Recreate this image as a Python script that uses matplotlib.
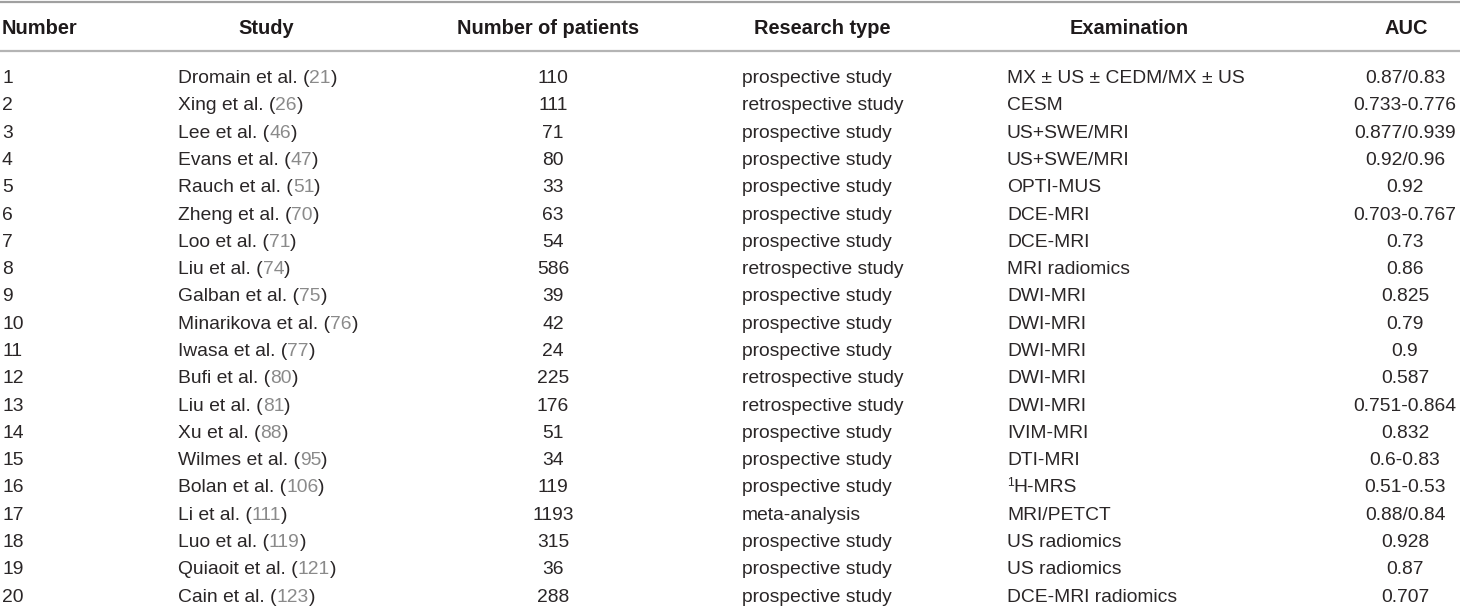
import matplotlib
matplotlib.use("Agg")
import matplotlib.pyplot as plt

plt.rcParams['font.family'] = ['Liberation Sans', 'DejaVu Sans']

numbers = [str(i) for i in range(1, 21)]
authors = ["Dromain et al.", "Xing et al.", "Lee et al.", "Evans et al.", "Rauch et al.",
           "Zheng et al.", "Loo et al.", "Liu et al.", "Galban et al.", "Minarikova et al.",
           "Iwasa et al.", "Bufi et al.", "Liu et al.", "Xu et al.", "Wilmes et al.",
           "Bolan et al.", "Li et al.", "Luo et al.", "Quiaoit et al.", "Cain et al."]
refs = ["21", "26", "46", "47", "51", "70", "71", "74", "75", "76",
        "77", "80", "81", "88", "95", "106", "111", "119", "121", "123"]
patients = ["110", "111", "71", "80", "33", "63", "54", "586", "39", "42",
            "24", "225", "176", "51", "34", "119", "1193", "315", "36", "288"]
research_types = ["prospective study", "retrospective study", "prospective study", "prospective study",
                  "prospective study", "prospective study", "prospective study", "retrospective study",
                  "prospective study", "prospective study", "prospective study", "retrospective study",
                  "retrospective study", "prospective study", "prospective study", "prospective study",
                  "meta-analysis", "prospective study", "prospective study", "prospective study"]
examinations = ["MX ± US ± CEDM/MX ± US", "CESM", "US+SWE/MRI", "US+SWE/MRI", "OPTI-MUS",
                "DCE-MRI", "DCE-MRI", "MRI radiomics", "DWI-MRI", "DWI-MRI",
                "DWI-MRI", "DWI-MRI", "DWI-MRI", "IVIM-MRI", "DTI-MRI",
                "1|H-MRS", "MRI/PETCT", "US radiomics", "US radiomics", "DCE-MRI radiomics"]
aucs = ["0.87/0.83", "0.733-0.776", "0.877/0.939", "0.92/0.96", "0.92",
        "0.703-0.767", "0.73", "0.86", "0.825", "0.79",
        "0.9", "0.587", "0.751-0.864", "0.832", "0.6-0.83",
        "0.51-0.53", "0.88/0.84", "0.928", "0.87", "0.707"]
headers = ["Number", "Study", "Number of patients", "Research type", "Examination", "AUC"]

W, H = 1460, 610
fig = plt.figure(figsize=(W / 100, H / 100), dpi=100)
ax = fig.add_axes([0, 0, 1, 1])
ax.set_xlim(0, W)
ax.set_ylim(H, 0)
ax.axis('off')

FS = 13.9
HFS = 14.4
TXT = '#2a2627'
GREY = '#8a8a8a'
renderer = fig.canvas.get_renderer()

# lines
ax.plot([0, W], [1.5, 1.5], color='#a0a0a0', lw=1.6, solid_capstyle='butt')
ax.plot([0, W], [50.5, 50.5], color='#b4b4b4', lw=1.6, solid_capstyle='butt')

# header
hy = 34
hpos = [(2, 'left'), (266, 'center'), (548, 'center'), (822, 'center'), (1129, 'center'), (1406, 'center')]
for (x, ha), h in zip(hpos, headers):
    ax.text(x, hy, h, fontsize=HFS, fontweight='bold', color='#1e1a1b', ha=ha, va='baseline')


def pieces(x, y, parts):
    for s, col, size, dy in parts:
        t = ax.text(x, y + dy, s, fontsize=size, color=col, ha='left', va='baseline')
        bb = t.get_window_extent(renderer)
        x += bb.width * 100 / fig.dpi


y0, dy = 83, 27.3
for i in range(20):
    y = y0 + i * dy
    ax.text(2, y, numbers[i], fontsize=FS, color=TXT, ha='left', va='baseline')
    pieces(178, y, [(authors[i] + " (", TXT, FS, 0), (refs[i], GREY, FS, 0), (")", TXT, FS, 0)])
    ax.text(553, y, patients[i], fontsize=FS, color=TXT, ha='center', va='baseline')
    ax.text(742, y, research_types[i], fontsize=FS, color=TXT, ha='left', va='baseline')
    ex = examinations[i]
    if '|' in ex:
        sup, rest = ex.split('|')
        pieces(1007, y, [(sup, TXT, FS * 0.62, -7), (rest, TXT, FS, 0)])
    else:
        ax.text(1007, y, ex, fontsize=FS, color=TXT, ha='left', va='baseline')
    ax.text(1405, y, aucs[i], fontsize=FS, color=TXT, ha='center', va='baseline')

fig.savefig('out.png', dpi=100, facecolor='white')
